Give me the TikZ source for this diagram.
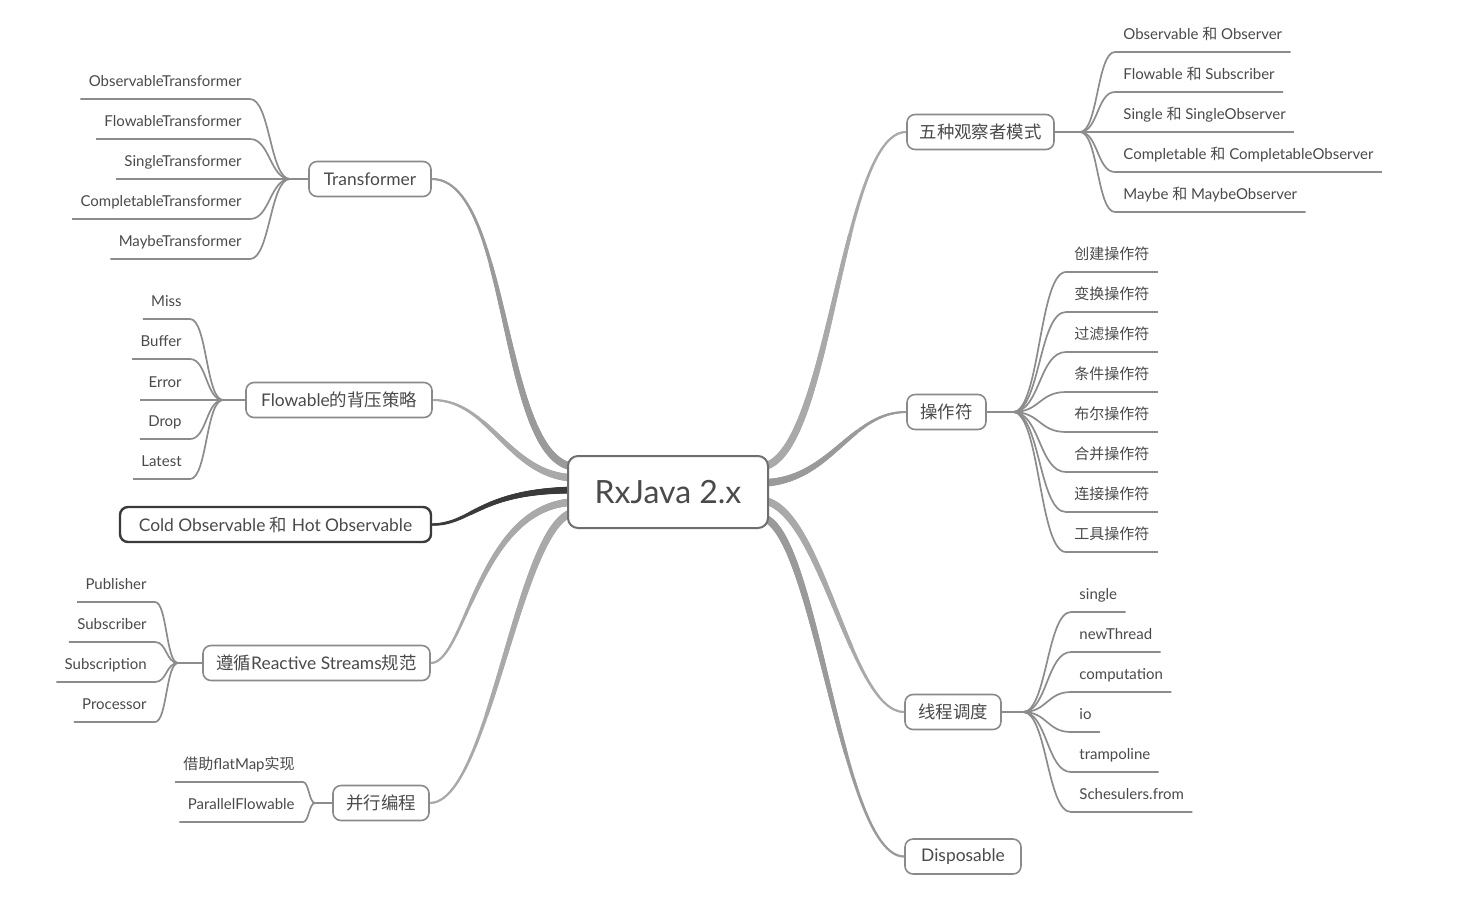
\documentclass[tikz,border=0pt]{standalone}
\usepackage{fontspec}
\setmainfont{Lato}
\newfontfamily\cjk{Noto Sans CJK SC}
\usetikzlibrary{calc,decorations.markings,backgrounds}
\pgfdeclarelayer{paper}
\pgfsetlayers{paper,background,main}
\definecolor{txt}{HTML}{4A4A4A}
\definecolor{edge}{HTML}{8C8C8C}
\definecolor{bedge}{HTML}{9A9A9A}
\definecolor{boxc}{HTML}{8A8A8A}
\definecolor{dark}{HTML}{3A3A3A}
\tikzset{
  taper/.style n args={3}{draw=#3, line width=1pt, postaction={decorate, decoration={markings,
     mark=between positions 0 and 1 step 0.5pt with {\pgfmathsetmacro\taprad{#2+(#1-#2)*(1-\pgfkeysvalueof{/pgf/decoration/mark info/distance from start}/\pgfdecoratedpathlength)}\fill[#3] (0,0) circle (\taprad pt);}}}},
  root/.style={draw=boxc!80!black, line width=1pt, rounded corners=5pt, fill=white, minimum width=100pt, minimum height=36pt, inner sep=0pt, font=\fontsize{16}{18}\selectfont, text=txt},
  topic/.style={draw=boxc, line width=0.8pt, rounded corners=4pt, fill=white, minimum height=17.5pt, inner sep=0pt, font=\fontsize{8.7}{10}\selectfont, text=txt},
  coldbox/.style={topic, draw=dark, line width=1.2pt},
  leafL/.style={anchor=south east, inner xsep=4pt, inner ysep=0pt, minimum height=16pt, text height=5.6pt, text depth=1.6pt, font=\fontsize{7.5}{9}\selectfont, text=txt},
  leafR/.style={leafL, anchor=south west},
  leafline/.style={draw=edge, line width=0.85pt},
}
\begin{document}
\begin{tikzpicture}[x=0.5pt,y=-0.5pt]
\begin{pgfonlayer}{paper}
\fill[white] (0,0) rectangle (1471,896);
\end{pgfonlayer}
\useasboundingbox (0,0) rectangle (1471,896);

% ---- center and topics ----
\node[root] (root) at (668,492) {RxJava 2.x};
\node[topic, minimum width=61pt] (trans) at (370,179) {Transformer};
\node[topic, minimum width=93pt] (flow) at (339,400) {Flowable{\cjk 的背压策略}};
\node[coldbox, minimum width=155.5pt] (cold) at (275.5,524.5) {Cold Observable {\cjk 和} Hot Observable};
\node[topic, minimum width=113.5pt] (react) at (316.5,663) {{\cjk 遵循}Reactive Streams{\cjk 规范}};
\node[topic, minimum width=48pt] (para) at (381,803) {\cjk 并行编程};
\node[topic, minimum width=73.5pt] (five) at (980.5,132) {\cjk 五种观察者模式};
\node[topic, minimum width=39.5pt] (ops) at (946.5,412) {\cjk 操作符};
\node[topic, minimum width=48pt] (sched) at (953,712) {\cjk 线程调度};
\node[topic, minimum width=58pt] (disp) at (963,856.5) {Disposable};

% ---- junctions ----
\coordinate (jT) at (290,179);
\coordinate (jF) at (223,400);
\coordinate (jR) at (178,663);
\coordinate (jP) at (315,803);
\coordinate (j5) at (1080,132);
\coordinate (jO) at (1013,412);
\coordinate (jS) at (1023,712);

% ---- leaves: Transformer ----
\node[leafL] (t1) at (250,99) {ObservableTransformer};
\node[leafL] (t2) at (250,139) {FlowableTransformer};
\node[leafL] (t3) at (250,179) {SingleTransformer};
\node[leafL] (t4) at (250,219) {CompletableTransformer};
\node[leafL] (t5) at (250,259) {MaybeTransformer};
% ---- leaves: Flowable ----
\node[leafL] (f1) at (190,319) {Miss};
\node[leafL] (f2) at (190,359) {Buffer};
\node[leafL] (f3) at (190,400) {Error};
\node[leafL] (f4) at (190,439) {Drop};
\node[leafL] (f5) at (190,479) {Latest};
% ---- leaves: Reactive ----
\node[leafL] (r1) at (155,602) {Publisher};
\node[leafL] (r2) at (155,642) {Subscriber};
\node[leafL] (r3) at (155,682) {Subscription};
\node[leafL] (r4) at (155,722) {Processor};
% ---- leaves: parallel ----
\node[leafL] (p1) at (303,782) {{\cjk 借助}flatMap{\cjk 实现}};
\node[leafL] (p2) at (303,822) {ParallelFlowable};
% ---- leaves: five ----
\node[leafR] (o1) at (1115,52) {Observable {\cjk 和} Observer};
\node[leafR] (o2) at (1115,92) {Flowable {\cjk 和} Subscriber};
\node[leafR] (o3) at (1115,132) {Single {\cjk 和} SingleObserver};
\node[leafR] (o4) at (1115,172) {Completable {\cjk 和} CompletableObserver};
\node[leafR] (o5) at (1115,212) {Maybe {\cjk 和} MaybeObserver};
% ---- leaves: operators ----
\node[leafR] (c1) at (1066,272) {\cjk 创建操作符};
\node[leafR] (c2) at (1066,312) {\cjk 变换操作符};
\node[leafR] (c3) at (1066,352) {\cjk 过滤操作符};
\node[leafR] (c4) at (1066,392) {\cjk 条件操作符};
\node[leafR] (c5) at (1066,432) {\cjk 布尔操作符};
\node[leafR] (c6) at (1066,472) {\cjk 合并操作符};
\node[leafR] (c7) at (1066,512) {\cjk 连接操作符};
\node[leafR] (c8) at (1066,552) {\cjk 工具操作符};
% ---- leaves: schedulers ----
\node[leafR] (s1) at (1071,612) {single};
\node[leafR] (s2) at (1071,652) {newThread};
\node[leafR] (s3) at (1071,692) {computation};
\node[leafR] (s4) at (1071,732) {io};
\node[leafR] (s5) at (1071,772) {trampoline};
\node[leafR] (s6) at (1071,812) {Schesulers.from};

\begin{scope}[on background layer]
% main connectors
\draw[taper={2}{0.5}{bedge}] ($(root.west)+(10,-25)$) .. controls +(-78,0) and +(80,0) .. (trans.east);
\draw[taper={2}{0.5}{bedge!85!white}] ($(root.west)+(10,-14)$) .. controls +(-68,0) and +(58,0) .. (flow.east);
\draw[taper={1.8}{0.7}{dark}] ($(root.west)+(10,-2)$) .. controls +(-98,0) and +(40,0) .. (cold.east);
\draw[taper={2}{0.5}{bedge!85!white}] ($(root.west)+(10,10)$) .. controls +(-98,0) and +(35,0) .. (react.east);
\draw[taper={2}{0.5}{bedge!85!white}] ($(root.west)+(10,20)$) .. controls +(-58,0) and +(61,0) .. (para.east);
\draw[taper={2}{0.5}{bedge!85!white}] ($(root.east)+(-10,-25)$) .. controls +(72,0) and +(-67,0) .. (five.west);
\draw[taper={2}{0.5}{bedge}] ($(root.east)+(-10,-9)$) .. controls +(72,0) and +(-57,0) .. (ops.west);
\draw[taper={2}{0.5}{bedge!85!white}] ($(root.east)+(-10,8)$) .. controls +(62,0) and +(-55,0) .. (sched.west);
\draw[taper={2}{0.5}{bedge}] ($(root.east)+(-10,25)$) .. controls +(57,0) and +(-65,0) .. (disp.west);

% topic to junction
\draw[leafline] (trans.west) -- (jT);
\draw[leafline] (flow.west) -- (jF);
\draw[leafline] (react.west) -- (jR);
\draw[leafline] (para.west) -- (jP);
\draw[leafline] (five.east) -- (j5);
\draw[leafline] (ops.east) -- (jO);
\draw[leafline] (sched.east) -- (jS);

% junction to leaves (left)
\foreach \n in {t1,t2,t3,t4,t5}
  \draw[leafline] (jT) .. controls +(-20,0) and +(20,0) .. (\n.south east) -- (\n.south west);
\foreach \n in {f1,f2,f3,f4,f5}
  \draw[leafline] (jF) .. controls +(-17,0) and +(17,0) .. (\n.south east) -- (\n.south west);
\foreach \n in {r1,r2,r3,r4}
  \draw[leafline] (jR) .. controls +(-12,0) and +(12,0) .. (\n.south east) -- (\n.south west);
\foreach \n in {p1,p2}
  \draw[leafline] (jP) .. controls +(-6,0) and +(6,0) .. (\n.south east) -- (\n.south west);
% junction to leaves (right)
\foreach \n in {o1,o2,o3,o4,o5}
  \draw[leafline] (j5) .. controls +(18,0) and +(-18,0) .. (\n.south west) -- (\n.south east);
\foreach \n in {c1,c2,c3,c4,c5,c6,c7,c8}
  \draw[leafline] (jO) .. controls +(27,0) and +(-27,0) .. (\n.south west) -- (\n.south east);
\foreach \n in {s1,s2,s3,s4,s5,s6}
  \draw[leafline] (jS) .. controls +(24,0) and +(-24,0) .. (\n.south west) -- (\n.south east);
\end{scope}
\end{tikzpicture}
\end{document}
